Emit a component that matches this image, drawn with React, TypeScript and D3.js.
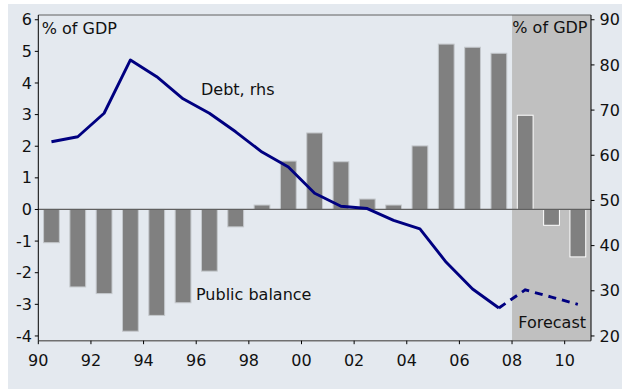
import React from "react";
import * as d3 from "d3";

const years = [1990,1991,1992,1993,1994,1995,1996,1997,1998,1999,2000,2001,2002,2003,2004,2005,2006,2007,2008,2009,2010];
const publicBalance = [-1.05,-2.45,-2.66,-3.85,-3.35,-2.95,-1.95,-0.55,0.14,1.53,2.42,1.51,0.33,0.14,2.01,5.23,5.13,4.94,2.98,-0.5,-1.5];
const debtYears = [1990,1991,1992,1993,1994,1995,1996,1997,1998,1999,2000,2001,2002,2003,2004,2005,2006,2007];
const debt = [63.0,64.1,69.3,81.1,77.4,72.5,69.3,65.2,60.7,57.4,51.6,48.7,48.2,45.6,43.7,36.3,30.4,26.2];
const forecastYears = [2007,2008,2009,2010];
const forecastDebt = [26.2,30.2,28.6,27.0];
const forecastStart = 2008;
const leftTicks = [-4,-3,-2,-1,0,1,2,3,4,5,6];
const rightTicks = [20,30,40,50,60,70,80,90];
const xTicks = [1990,1992,1994,1996,1998,2000,2002,2004,2006,2008,2010];

const FONT = "'DejaVu Sans', Verdana, sans-serif";

export default function App() {
  const W = 622, H = 389;
  const left = 38.3, right = 591, top = 15, bottom = 340.7;
  const x = d3.scaleLinear().domain([1990, 2011]).range([left, right]);
  const yL = d3.scaleLinear().domain([-4.15, 6.15]).range([bottom, top]);
  const yR = d3.scaleLinear().domain([18.95, 91.05]).range([bottom, top]);
  const bw = (x(1991) - x(1990)) * 0.6;
  const line = d3.line<number>().x((_, i) => x(debtYears[i] + 0.5)).y((d) => yR(d));
  const fline = d3.line<number>().x((_, i) => x(forecastYears[i] + 0.5)).y((d) => yR(d));
  const fmtX = (v: number) => String(v % 100).padStart(2, "0");

  return (
    <svg width={W} height={H} style={{ position: "fixed", left: 0, top: 0 }} fontFamily={FONT}>
      <rect x={0} y={0} width={W} height={H} fill="#ffffff" />
      <rect x={8} y={4} width={W - 8} height={H - 4} fill="#e4e9ef" />
      <rect x={x(forecastStart)} y={top} width={right - x(forecastStart)} height={bottom - top} fill="#c0c0c0" />
      {years.map((yr, i) => {
        const v = publicBalance[i];
        const y0 = yL(0), y1 = yL(v);
        const fc = yr >= forecastStart;
        return (
          <rect key={yr} x={x(yr + 0.5) - bw / 2} y={Math.min(y0, y1)} width={bw} height={Math.abs(y1 - y0)}
            fill="#808080" stroke={fc ? "#ffffff" : "#c4c8cc"} strokeWidth={1} />
        );
      })}
      <line x1={left} x2={right} y1={yL(0)} y2={yL(0)} stroke="#606060" strokeWidth={1.2} />
      <path d={line(debt) || ""} fill="none" stroke="#000080" strokeWidth={2.9} strokeLinejoin="round" />
      <path d={fline(forecastDebt) || ""} fill="none" stroke="#000080" strokeWidth={2.9} strokeDasharray="8,6" />
      <line x1={left} x2={right} y1={top} y2={top} stroke="#606060" strokeWidth={1} />
      <line x1={left} x2={right} y1={bottom} y2={bottom} stroke="#707070" strokeWidth={1.5} />
      <line x1={left} x2={left} y1={top} y2={bottom} stroke="#000000" strokeWidth={1} />
      <line x1={right} x2={right} y1={top} y2={bottom} stroke="#000000" strokeWidth={1} />
      {leftTicks.map((t) => (
        <g key={"l" + t}>
          <line x1={left - 3.5} x2={left} y1={yL(t)} y2={yL(t)} stroke="#000" strokeWidth={1} />
          <text x={32} y={yL(t)} dy="0.35em" textAnchor="end" fontSize={16} fill="#111">{t}</text>
        </g>
      ))}
      {rightTicks.map((t) => (
        <g key={"r" + t}>
          <line x1={right} x2={right + 3.5} y1={yR(t)} y2={yR(t)} stroke="#000" strokeWidth={1} />
          <text x={599.5} y={yR(t)} dy="0.35em" textAnchor="start" fontSize={16} fill="#111">{t}</text>
        </g>
      ))}
      {xTicks.map((t) => (
        <g key={"x" + t}>
          <line x1={x(t)} x2={x(t)} y1={bottom} y2={bottom + 3.5} stroke="#000" strokeWidth={1} />
          <text x={x(t)} y={365.5} textAnchor="middle" fontSize={16} fill="#111">{fmtX(t)}</text>
        </g>
      ))}
      <text x={41.7} y={34} fontSize={16} fill="#111">% of GDP</text>
      <text x={587.5} y={33.3} fontSize={16} fill="#111" textAnchor="end">% of GDP</text>
      <text x={201} y={95} fontSize={16} fill="#111">Debt, rhs</text>
      <text x={196} y={300} fontSize={16} fill="#111">Public balance</text>
      <text x={586} y={328.3} fontSize={16} fill="#111" textAnchor="end">Forecast</text>
    </svg>
  );
}
